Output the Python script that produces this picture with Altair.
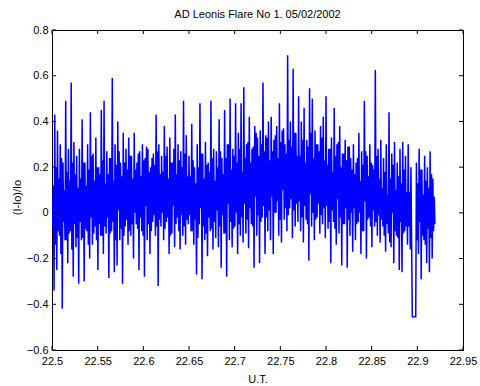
import altair as alt
import pandas as pd

# Relative intensity (I-Io)/Io. Each step of the trace
# is a group of four samples: a large upward excursion (peaks_hi), a smaller
# dip (mid_lo), a smaller rise (mid_hi) and a large downward excursion
# (peaks_lo). Ten steps per row.
peaks_hi = [
    0.05, 0.43, 0.36, 0.30, 0.22, 0.49, 0.28, 0.57, 0.31, 0.25,
    0.28, 0.41, 0.22, 0.30, 0.44, 0.26, 0.33, 0.20, 0.45, 0.49,
    0.27, 0.24, 0.59, 0.30, 0.40, 0.22, 0.35, 0.28, 0.33, 0.25,
    0.35, 0.22, 0.27, 0.30, 0.24, 0.28, 0.20, 0.26, 0.43, 0.30,
    0.25, 0.38, 0.29, 0.33, 0.22, 0.43, 0.30, 0.27, 0.49, 0.34,
    0.25, 0.39, 0.20, 0.30, 0.48, 0.26, 0.31, 0.22, 0.49, 0.28,
    0.27, 0.41, 0.24, 0.45, 0.30, 0.50, 0.28, 0.48, 0.35, 0.48,
    0.55, 0.30, 0.42, 0.28, 0.38, 0.33, 0.36, 0.57, 0.34, 0.40,
    0.42, 0.32, 0.38, 0.48, 0.36, 0.30, 0.69, 0.40, 0.63, 0.35,
    0.51, 0.40, 0.46, 0.32, 0.545, 0.50, 0.36, 0.30, 0.38, 0.42,
    0.51, 0.28, 0.33, 0.46, 0.30, 0.38, 0.26, 0.32, 0.29, 0.24,
    0.30, 0.22, 0.35, 0.27, 0.49, 0.25, 0.30, 0.21, 0.625, 0.28,
    0.32, 0.24, 0.30, 0.44, 0.26, 0.31, 0.22, 0.28, 0.31, 0.25,
    0.30, 0.20, -0.455, 0.22, 0.28, 0.19, 0.25, 0.20, 0.27, 0.15,
]
mid_lo = [
    -0.06, -0.14, -0.08, -0.18, -0.04, -0.12, -0.09, -0.16, -0.05, -0.11,
    -0.04, -0.11, -0.07, -0.14, -0.02, -0.09, -0.12, -0.05, -0.10, -0.06,
    -0.02, -0.09, -0.04, -0.12, 0.01, -0.07, -0.10, -0.03, -0.08, -0.05,
    0.00, -0.07, -0.02, -0.10, 0.03, -0.05, -0.08, -0.01, -0.06, -0.03,
    0.00, -0.07, -0.02, -0.10, 0.03, -0.05, -0.08, -0.01, -0.06, -0.03,
    -0.01, -0.08, -0.03, -0.11, 0.02, -0.06, -0.09, -0.02, -0.07, -0.04,
    0.01, -0.06, -0.01, -0.09, 0.04, -0.04, -0.07, 0.00, -0.05, -0.02,
    0.04, -0.03, 0.02, -0.06, 0.07, -0.01, -0.04, 0.03, -0.02, 0.01,
    0.07, 0.00, 0.05, -0.03, 0.10, 0.02, -0.01, 0.06, 0.01, 0.04,
    0.05, -0.02, 0.03, -0.05, 0.08, 0.00, -0.03, 0.04, -0.01, 0.02,
    0.03, -0.04, 0.01, -0.07, 0.06, -0.02, -0.05, 0.02, -0.03, 0.00,
    0.02, -0.05, 0.00, -0.08, 0.05, -0.03, -0.06, 0.01, -0.04, -0.01,
    -0.03, -0.10, -0.05, -0.13, 0.00, -0.08, -0.11, -0.04, -0.09, -0.06,
    -0.06, -0.13, -0.455, -0.12, -0.04, -0.10, -0.14, -0.07, -0.11, -0.08,
]
mid_hi = [
    0.12, 0.20, 0.15, 0.24, 0.10, 0.18, 0.14, 0.22, 0.17, 0.11,
    0.15, 0.22, 0.12, 0.19, 0.25, 0.14, 0.20, 0.17, 0.23, 0.13,
    0.17, 0.24, 0.14, 0.21, 0.27, 0.16, 0.22, 0.19, 0.25, 0.15,
    0.19, 0.26, 0.16, 0.23, 0.29, 0.18, 0.24, 0.21, 0.27, 0.17,
    0.18, 0.25, 0.15, 0.22, 0.28, 0.17, 0.23, 0.20, 0.26, 0.16,
    0.16, 0.23, 0.13, 0.20, 0.26, 0.15, 0.21, 0.18, 0.24, 0.14,
    0.20, 0.27, 0.17, 0.24, 0.30, 0.19, 0.25, 0.22, 0.28, 0.18,
    0.24, 0.31, 0.22, 0.29, 0.35, 0.25, 0.30, 0.27, 0.33, 0.23,
    0.27, 0.34, 0.24, 0.31, 0.37, 0.26, 0.32, 0.29, 0.35, 0.25,
    0.25, 0.32, 0.22, 0.29, 0.35, 0.24, 0.30, 0.27, 0.33, 0.23,
    0.21, 0.28, 0.18, 0.25, 0.31, 0.20, 0.26, 0.23, 0.29, 0.19,
    0.17, 0.24, 0.14, 0.21, 0.27, 0.16, 0.22, 0.19, 0.25, 0.15,
    0.11, 0.18, 0.08, 0.15, 0.21, 0.10, 0.16, 0.13, 0.19, 0.09,
    0.09, -0.455, -0.455, 0.13, 0.19, 0.08, 0.14, 0.11, 0.17, 0.07,
]
peaks_lo = [
    -0.34, -0.25, -0.10, -0.42, -0.12, -0.22, -0.08, -0.28, -0.15, -0.31,
    -0.12, -0.30, -0.08, -0.20, -0.14, -0.06, -0.25, -0.10, -0.18, -0.09,
    -0.285, -0.08, -0.26, -0.23, -0.12, -0.31, -0.06, -0.14, -0.10, -0.20,
    -0.05, -0.25, -0.08, -0.28, -0.12, -0.18, -0.04, -0.10, -0.32, -0.06,
    -0.12, -0.04, -0.18, -0.09, -0.15, -0.02, -0.16, -0.10, -0.14, -0.05,
    -0.08, -0.14, -0.27, -0.05, -0.29, -0.12, -0.19, -0.08, -0.16, -0.11,
    -0.15, -0.24, -0.09, -0.28, -0.12, -0.15, -0.06, -0.18, -0.10, -0.13,
    -0.09, -0.155, -0.05, -0.24, -0.10, -0.22, -0.02, -0.18, -0.08, -0.12,
    -0.18, 0.00, -0.10, -0.13, -0.03, -0.08, 0.02, -0.11, -0.06, -0.04,
    -0.08, -0.13, -0.03, -0.21, -0.06, -0.12, -0.02, -0.09, -0.05, -0.11,
    -0.07, -0.22, -0.04, -0.14, -0.09, -0.23, -0.05, -0.24, -0.10, -0.17,
    -0.12, -0.04, -0.18, -0.08, -0.20, -0.02, -0.15, -0.06, -0.10, -0.13,
    -0.06, -0.17, -0.09, -0.15, -0.22, -0.10, -0.25, -0.26, -0.08, -0.14,
    -0.16, -0.455, -0.455, -0.18, -0.29, -0.12, -0.22, -0.26, -0.20, -0.05,
]
t_start = 22.5      # U.T. of first sample
t_step = 0.00075    # sampling interval (hours)

x_ticks = [22.5, 22.55, 22.6, 22.65, 22.7, 22.75, 22.8, 22.85, 22.9, 22.95]
y_ticks = [-0.6, -0.4, -0.2, 0.0, 0.2, 0.4, 0.6, 0.8]

vals = []
for a, b, c, d in zip(peaks_hi, mid_lo, mid_hi, peaks_lo):
    vals += [a, b, c, d]
df = pd.DataFrame({"v": vals})
df["i"] = range(len(df))
df["t"] = t_start + df["i"] * t_step

W, H = 411, 320
FONT = "Liberation Sans"

xs = alt.Scale(domain=[22.5, 22.95], nice=False, zero=False)
ys = alt.Scale(domain=[-0.6, 0.8], nice=False, zero=False)
xaxis = alt.Axis(
    values=x_ticks, format="~g", title="U.T.", ticks=False, domain=False,
    grid=False, labelFlush=False, labelPadding=5, labelFontSize=11,
    labelFont=FONT, labelColor="#000000", titleFont=FONT, titleFontSize=11,
    titleFontWeight="normal", titleColor="#000000", titleY=32,
    titleBaseline="alphabetic", labelOverlap=False)
yaxis = alt.Axis(
    values=y_ticks, format="~g", title="(I-Io)/Io", ticks=False, domain=False,
    grid=False, labelFlush=False, labelPadding=4, labelFontSize=11,
    labelFont=FONT, labelColor="#000000", titleFont=FONT, titleFontSize=11,
    titleFontWeight="normal", titleColor="#000000", titleX=-32, titleY=167,
    titleAngle=270, titleAlign="center", titleBaseline="alphabetic",
    labelOverlap=False)

line = alt.Chart(df).mark_line(color="#0000ff", strokeWidth=1.5, clip=True,
                               strokeJoin="miter").encode(
    x=alt.X("t:Q", scale=xs, axis=xaxis),
    y=alt.Y("v:Q", scale=ys, axis=yaxis),
    order="i:Q",
)

xt = pd.DataFrame({"t": x_ticks})
yt = pd.DataFrame({"v": y_ticks})
tick_col = "#000000"
xb = alt.Chart(xt).mark_rule(color=tick_col, strokeWidth=1).encode(
    x=alt.X("t:Q", scale=xs, axis=xaxis), y=alt.value(H), y2=alt.value(H - 4))
xtop = alt.Chart(xt).mark_rule(color=tick_col, strokeWidth=1).encode(
    x=alt.X("t:Q", scale=xs, axis=xaxis), y=alt.value(0), y2=alt.value(4))
yl = alt.Chart(yt).mark_rule(color=tick_col, strokeWidth=1).encode(
    y=alt.Y("v:Q", scale=ys, axis=yaxis), x=alt.value(0), x2=alt.value(4))
yr = alt.Chart(yt).mark_rule(color=tick_col, strokeWidth=1).encode(
    y=alt.Y("v:Q", scale=ys, axis=yaxis), x=alt.value(W), x2=alt.value(W - 4))

chart = alt.layer(line, xb, xtop, yl, yr).properties(
    width=W, height=H,
    title=alt.TitleParams("AD Leonis Flare No 1. 05/02/2002", font=FONT,
                          fontSize=11, fontWeight="normal", color="#000000",
                          anchor="middle", baseline="alphabetic", offset=-5),
    autosize=alt.AutoSizeParams(type="none"),
    padding={"left": 52, "top": 30, "right": 17, "bottom": 36},
    background="white",
).configure_view(stroke="#000000", strokeWidth=1)

chart.save("out.html", embed_options={"renderer": "svg", "actions": False})
